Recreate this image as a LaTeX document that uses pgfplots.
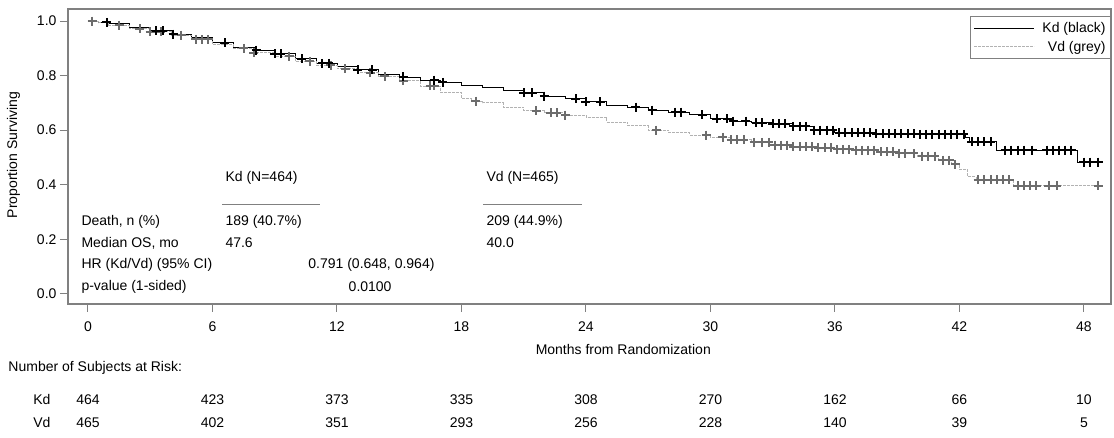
\documentclass[border=0pt]{standalone}
\usepackage{pgfplots}
\usepackage{pgfplotstable}
\pgfplotsset{compat=1.18}
\usepackage{fontspec}
\setmainfont{Liberation Sans}

\pgfplotstableread{
t S
0 1.0
0.5 0.995
1 0.99
2 0.978
3 0.965
4 0.952
5 0.938
6 0.92
7 0.902
8 0.893
9 0.88
10 0.862
11 0.845
12 0.835
13 0.822
14 0.806
15 0.795
16 0.783
17 0.775
18 0.765
19 0.756
20 0.746
21 0.738
22 0.725
23 0.716
24 0.705
25 0.69
26 0.684
27 0.673
28 0.666
29 0.656
30 0.642
31 0.633
32 0.628
33 0.624
34 0.614
35 0.60
36 0.59
38 0.587
40 0.585
42.3 0.572
42.5 0.557
43.8 0.527
47.7 0.483
48.9 0.483
}\kdline

\pgfplotstableread{
t S
0.9 0.995
3.3 0.965
3.6 0.965
4.1 0.952
6.6 0.92
8.1 0.893
9.0 0.88
9.3 0.88
10.3 0.862
11.3 0.845
11.6 0.845
13.0 0.822
13.7 0.822
15.2 0.795
16.7 0.783
17.1 0.775
21.0 0.738
21.4 0.738
22.0 0.725
23.5 0.716
24.0 0.705
24.7 0.705
26.4 0.684
27.2 0.673
28.3 0.666
28.6 0.666
29.6 0.656
30.3 0.642
30.8 0.642
31.1 0.633
31.7 0.633
32.2 0.628
32.5 0.628
33.0 0.624
33.3 0.624
33.6 0.624
34.0 0.614
34.3 0.614
34.6 0.614
35.0 0.60
35.3 0.60
35.6 0.60
35.9 0.60
36.2 0.59
36.5 0.59
36.8 0.59
37.1 0.59
37.4 0.59
37.7 0.59
38.0 0.587
38.3 0.587
38.6 0.587
38.9 0.587
39.2 0.587
39.5 0.587
39.8 0.587
40.1 0.585
40.4 0.585
40.7 0.585
41.0 0.585
41.3 0.585
41.6 0.585
41.9 0.585
42.2 0.585
42.6 0.557
42.9 0.557
43.2 0.557
43.5 0.557
44.2 0.527
44.5 0.527
44.8 0.527
45.1 0.527
45.5 0.527
46.2 0.527
46.5 0.527
46.8 0.527
47.1 0.527
47.4 0.527
48.0 0.483
48.3 0.483
48.7 0.483
}\kdcens

\pgfplotstableread{
t S
0 1.0
0.5 0.993
1 0.985
2 0.972
3 0.96
4 0.948
5 0.933
6 0.915
7 0.9
8 0.884
9 0.87
10 0.852
11 0.838
12 0.825
13 0.81
14 0.797
15 0.781
16 0.762
17 0.738
18 0.716
18.5 0.706
19 0.70
20 0.685
21 0.672
22 0.664
23 0.655
24 0.647
25 0.63
26 0.616
27 0.60
28 0.59
29 0.582
30 0.574
31 0.565
32 0.555
33 0.545
34 0.54
35 0.535
36 0.53
37 0.527
38 0.52
39 0.515
40 0.505
41 0.49
41.6 0.475
42 0.455
42.4 0.43
42.8 0.418
44.6 0.396
48.8 0.396
}\vdline

\pgfplotstableread{
t S
0.2 1.0
1.5 0.985
2.5 0.972
3.0 0.96
3.5 0.96
4.5 0.948
5.2 0.933
5.5 0.933
5.8 0.933
7.5 0.9
8.0 0.884
9.7 0.87
10.7 0.852
11.7 0.838
12.4 0.825
13.6 0.81
14.3 0.797
15.2 0.781
16.5 0.762
16.7 0.762
18.7 0.706
21.6 0.672
22.3 0.664
22.6 0.664
23.0 0.655
27.4 0.60
29.8 0.582
30.6 0.574
31.0 0.565
31.3 0.565
31.6 0.565
32.1 0.555
32.5 0.555
32.8 0.555
33.1 0.545
33.4 0.545
33.7 0.545
34.0 0.54
34.3 0.54
34.6 0.54
34.9 0.54
35.2 0.535
35.5 0.535
35.8 0.535
36.1 0.53
36.4 0.53
36.7 0.53
37.0 0.527
37.3 0.527
37.6 0.527
37.9 0.527
38.2 0.52
38.5 0.52
38.8 0.52
39.1 0.515
39.4 0.515
39.8 0.515
40.2 0.505
40.5 0.505
40.8 0.505
41.2 0.49
41.5 0.49
41.8 0.475
42.9 0.418
43.2 0.418
43.5 0.418
43.8 0.418
44.1 0.418
44.4 0.418
44.8 0.396
45.1 0.396
45.4 0.396
45.7 0.396
46.3 0.396
46.7 0.396
48.7 0.396
}\vdcens

\begin{document}
\begin{tikzpicture}[font=\fontsize{14bp}{17bp}\selectfont]
\begin{axis}[
  scale only axis,
  width=1043bp, height=295bp,
  xmin=-0.964, xmax=49.3,
  ymin=-0.037, ymax=1.044,
  clip=false,
  axis line style={gray, line width=1.2bp},
  every tick/.style={gray, line width=1bp},
  tick align=outside,
  major tick length=8bp,
  xtick={0,6,...,48},
  ytick={0,0.2,0.4,0.6,0.8,1.0},
  xticklabel style={yshift=-6bp},
  yticklabel style={/pgf/number format/.cd, fixed, fixed zerofill, precision=1},
  /pgf/number format/assume math mode=true,
  xtick pos=bottom, ytick pos=left,
  legend style={at={(rel axis cs:1,1)}, anchor=north east, yshift=-7bp, xshift=0bp,
    draw=gray, line width=0.8bp, inner xsep=3bp, inner ysep=4bp, row sep=3bp,
    column sep=6bp,
    font=\fontsize{14bp}{17bp}\selectfont},
  legend cell align=right,
  legend image code/.code={\draw[#1] (0bp,0bp) -- (60bp,0bp);},
]
\addplot[const plot, black, line width=0.9bp] table[x=t,y=S] {\kdline};
\addlegendentry{Kd (black)}
\addplot[const plot, gray!60, line width=0.9bp, dash pattern=on 3bp off 1bp] table[x=t,y=S] {\vdline};
\addlegendentry{Vd (grey)}
\addplot[only marks, mark=+, mark size=4.5bp, gray!85!black, line width=2bp, forget plot] table[x=t,y=S] {\vdcens};
\addplot[only marks, mark=+, mark size=4.5bp, black, line width=2bp, forget plot] table[x=t,y=S] {\kdcens};

% summary text
\node[anchor=west] at (axis cs:6.46,0.425) {Kd (N=464)};
\node[anchor=west] at (axis cs:19.04,0.425) {Vd (N=465)};
\draw[gray, line width=1bp] (axis cs:6.46,0.326) -- (axis cs:11.18,0.326);
\draw[gray, line width=1bp] (axis cs:19.04,0.326) -- (axis cs:23.8,0.326);
\node[anchor=west] at (axis cs:-0.48,0.264) {Death, n (\%)};
\node[anchor=west] at (axis cs:-0.48,0.187) {Median OS, mo};
\node[anchor=west] at (axis cs:-0.48,0.106) {HR (Kd/Vd) (95\% CI)};
\node[anchor=west] at (axis cs:-0.48,0.026) {p-value (1-sided)};
\node[anchor=west] at (axis cs:6.46,0.264) {189 (40.7\%)};
\node[anchor=west] at (axis cs:6.46,0.187) {47.6};
\node[anchor=west] at (axis cs:19.04,0.264) {209 (44.9\%)};
\node[anchor=west] at (axis cs:19.04,0.187) {40.0};
\node[anchor=east] at (axis cs:16.87,0.106) {0.791 (0.648, 0.964)};
\node[anchor=east] at (axis cs:14.8,0.026) {0.0100};

% axis labels
\node at (axis cs:25.8,-0.205) {Months from Randomization};
\node[rotate=90] at (axis cs:-3.59,0.509) {Proportion Surviving};

% at-risk table
\node[anchor=west] at (axis cs:-4.0,-0.271) {Number of Subjects at Risk:};
\node[anchor=east] at (axis cs:-1.64,-0.388) {Kd};
\node[anchor=east] at (axis cs:-1.64,-0.4725) {Vd};
\node at (axis cs:0,-0.388) {464};
\node at (axis cs:6,-0.388) {423};
\node at (axis cs:12,-0.388) {373};
\node at (axis cs:18,-0.388) {335};
\node at (axis cs:24,-0.388) {308};
\node at (axis cs:30,-0.388) {270};
\node at (axis cs:36,-0.388) {162};
\node at (axis cs:42,-0.388) {66};
\node at (axis cs:48,-0.388) {10};
\node at (axis cs:0,-0.4725) {465};
\node at (axis cs:6,-0.4725) {402};
\node at (axis cs:12,-0.4725) {351};
\node at (axis cs:18,-0.4725) {293};
\node at (axis cs:24,-0.4725) {256};
\node at (axis cs:30,-0.4725) {228};
\node at (axis cs:36,-0.4725) {140};
\node at (axis cs:42,-0.4725) {39};
\node at (axis cs:48,-0.4725) {5};
\path (axis cs:-4.24,-0.527) rectangle (axis cs:49.45,1.077);
\end{axis}
\end{tikzpicture}
\end{document}
